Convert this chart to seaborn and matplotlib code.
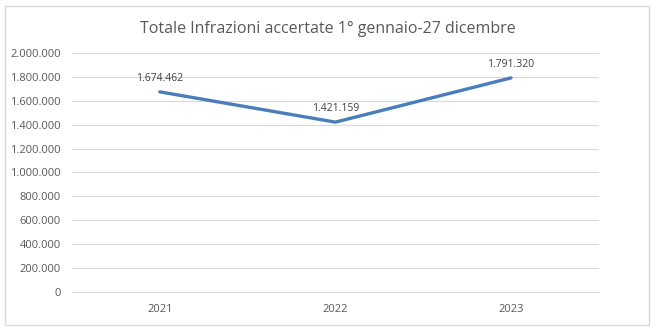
import matplotlib
matplotlib.use("Agg")
import matplotlib.pyplot as plt
import seaborn as sns
import pandas as pd
from matplotlib.patches import Rectangle
from matplotlib.ticker import FuncFormatter

years = ["2021", "2022", "2023"]
values = [1674462, 1421159, 1791320]
title = "Totale Infrazioni accertate 1° gennaio-27 dicembre"

sns.set_theme(style="white")
plt.rcParams['font.family'] = ['Open Sans', 'DejaVu Sans']

df = pd.DataFrame({"Anno": years, "Valore": values})

fig = plt.figure(figsize=(6.56, 3.31), dpi=100)
ax = fig.add_axes([0.1098, 0.118, 0.803, 0.722])

sns.lineplot(data=df, x="Anno", y="Valore", ax=ax, color="#4A7EBB", linewidth=2.4, sort=False)

def fmt(v):
    return f"{int(round(v)):,}".replace(",", ".")

ax.set_ylim(0, 2000000)
ax.set_xlim(-0.5, 2.5)
ax.set_yticks(range(0, 2000001, 200000))
ax.yaxis.set_major_formatter(FuncFormatter(lambda v, p: fmt(v)))
ax.grid(axis="y", color="#D9D9D9", linewidth=0.8)
ax.set_axisbelow(True)
for s in ["top", "right", "left"]:
    ax.spines[s].set_visible(False)
ax.spines["bottom"].set_color("#D9D9D9")
ax.spines["bottom"].set_linewidth(0.8)
ax.tick_params(axis="both", length=0, labelsize=8, labelcolor="#595959")
ax.tick_params(axis="y", pad=8)
ax.tick_params(axis="x", pad=9)
ax.set_xlabel("")
ax.set_ylabel("")

for i, v in enumerate(values):
    ax.annotate(fmt(v), (i, v), xytext=(0, 6), textcoords="offset points",
                ha="center", va="bottom", fontsize=7.5, color="#404040")

fig.text(0.5, 0.912, title, ha="center", va="center", fontsize=11.5, color="#595959")

fig.patches.append(Rectangle((5/656, 6/331), 644/656, 319/331, transform=fig.transFigure,
                             fill=False, edgecolor="#D9D9D9", linewidth=1))

fig.savefig("out.png", dpi=100)
